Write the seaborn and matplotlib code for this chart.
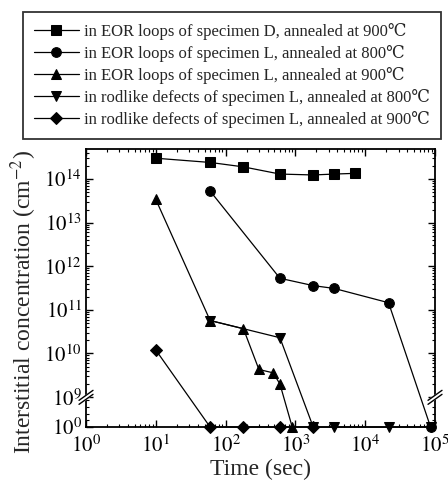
import numpy as np
import matplotlib
matplotlib.use("Agg")
import matplotlib.pyplot as plt
import seaborn as sns

# ---------------- data ----------------
sq_t = [10, 60, 180, 600, 1800, 3600, 7200]
sq_v = [3.0e14, 2.4e14, 1.9e14, 1.3e14, 1.24e14, 1.3e14, 1.35e14]

circ_t = [60, 600, 1800, 3600, 21600, 86400]
circ_v = [5.3e13, 5.3e11, 3.6e11, 3.1e11, 1.46e11, 1]

tup_t = [10, 60, 180, 300, 480, 600, 900]
tup_v = [3.4e13, 5.7e10, 3.7e10, 4.3e9, 3.6e9, 2.0e9, 1]

tdn_t = [60, 600, 1800, 3600, 21600, 86400]
tdn_v = [5.7e10, 2.3e10, 1, 1, 1, 1]

dia_t = [10, 60, 180, 600, 1800]
dia_v = [1.2e10, 1, 1, 1, 1]

labels = [
    "in EOR loops of specimen D, annealed at 900\u2103",
    "in EOR loops of specimen L, annealed at 800\u2103",
    "in EOR loops of specimen L, annealed at 900\u2103",
    "in rodlike defects of specimen L, annealed at 800\u2103",
    "in rodlike defects of specimen L, annealed at 900\u2103",
]
x_ticks = [1, 10, 100, 1000, 10000, 100000]
x_ticklabels = ["$10^{0}$", "$10^{1}$", "$10^{2}$", "$10^{3}$", "$10^{4}$", "$10^{5}$"]
y_ticks = [1, 1e9, 1e10, 1e11, 1e12, 1e13, 1e14]
y_ticklabels = ["$10^{0}$", "$10^{9}$", "$10^{10}$", "$10^{11}$", "$10^{12}$", "$10^{13}$", "$10^{14}$"]

# ---------------- style ----------------
sns.set_theme(style="ticks")
plt.rcParams["font.family"] = ["Liberation Serif", "DejaVu Serif", "Noto Sans CJK JP"]
plt.rcParams["mathtext.fontset"] = "stix"
plt.rcParams["xtick.direction"] = "in"
plt.rcParams["ytick.direction"] = "in"

fig = plt.figure(figsize=(4.48, 4.82), dpi=100)
ax = fig.add_axes([0.192, 0.114, 0.779, 0.577])

series = [
    (sq_t, sq_v, "s", 6.5),
    (circ_t, circ_v, "o", 7.0),
    (tup_t, tup_v, "^", 7.5),
    (tdn_t, tdn_v, "v", 7.5),
    (dia_t, dia_v, "D", 6.0),
]
for (t, v, m, ms), lab in zip(series, labels):
    sns.lineplot(x=t, y=v, ax=ax, color="black", marker=m, markersize=ms,
                 markeredgecolor="black", linewidth=0.9, estimator=None,
                 sort=False, label=lab, clip_on=False, zorder=3)

# broken log scale on y
K = 30.0 / (43.7 * 9.0)


def fwd(v):
    v = np.maximum(np.asarray(v, dtype=float), 1e-300)
    L = np.log10(v)
    return np.where(L >= 9, L, 9 - (9 - L) * K)


def inv(p):
    p = np.asarray(p, dtype=float)
    return np.where(p >= 9, 10.0 ** p, 10.0 ** (9 - (9 - p) / K))


ax.set_yscale("function", functions=(fwd, inv))
ax.set_xscale("log")
ax.set_xlim(1, 1e5)
ax.set_ylim(1, 10 ** 14.69)

ax.set_xticks(x_ticks)
ax.set_xticklabels(x_ticklabels)
ax.xaxis.set_minor_locator(matplotlib.ticker.LogLocator(base=10, subs=np.arange(2, 10), numticks=20))
ax.xaxis.set_minor_formatter(matplotlib.ticker.NullFormatter())

ax.set_yticks(y_ticks)
ax.set_yticklabels(y_ticklabels)
yminor = [1e2, 1e4, 1e6, 1e8]
for d in range(9, 15):
    for s in range(2, 10):
        val = s * 10.0 ** d
        if val < 10 ** 14.69:
            yminor.append(val)
ax.set_yticks(yminor, minor=True)
ax.yaxis.set_minor_formatter(matplotlib.ticker.NullFormatter())

ax.tick_params(which="both", top=True, right=True, colors="black")
ax.tick_params(which="major", length=5, width=1.0, labelsize=15)
ax.tick_params(axis="x", which="major", pad=6)
ax.tick_params(axis="y", which="major", pad=3)
ax.tick_params(which="minor", length=2.5, width=0.8)
for sp in ax.spines.values():
    sp.set_color("black")
    sp.set_linewidth(1.3)

ax.set_xlabel("Time (sec)", fontsize=17, labelpad=1.5)
ax.set_ylabel("Interstitial concentration (cm$^{-2}$)", fontsize=17)
ax.yaxis.set_label_coords(-0.135, 0.45)

# axis break marks
ybrk = (fwd(1e9) - fwd(1)) / (fwd(10 ** 14.69) - fwd(1)) - 0.008
dx, dy, gap = 7 / 349, 5 / 278, 4 / 278
for xa in (0.0, 1.0):
    ax.fill([xa - dx, xa + dx, xa + dx, xa - dx],
            [ybrk - dy, ybrk + dy, ybrk + dy + gap, ybrk - dy + gap],
            color="white", transform=ax.transAxes, clip_on=False, zorder=5)
    for off in (0.0, gap):
        ax.plot([xa - dx, xa + dx], [ybrk - dy + off, ybrk + dy + off],
                color="black", lw=1.0, transform=ax.transAxes, clip_on=False, zorder=6)

# legend above the axes
h, l = ax.get_legend_handles_labels()
ax.get_legend().remove()
leg = fig.legend(h, l, loc="upper left", bbox_to_anchor=(0.051, 0.975),
                 fontsize=12, frameon=True, fancybox=False, edgecolor="black",
                 handlelength=2.7, handletextpad=0.3, labelspacing=0.3,
                 borderpad=0.65, borderaxespad=0.0)
leg.get_frame().set_linewidth(1.3)

fig.savefig("out.png", dpi=100)
